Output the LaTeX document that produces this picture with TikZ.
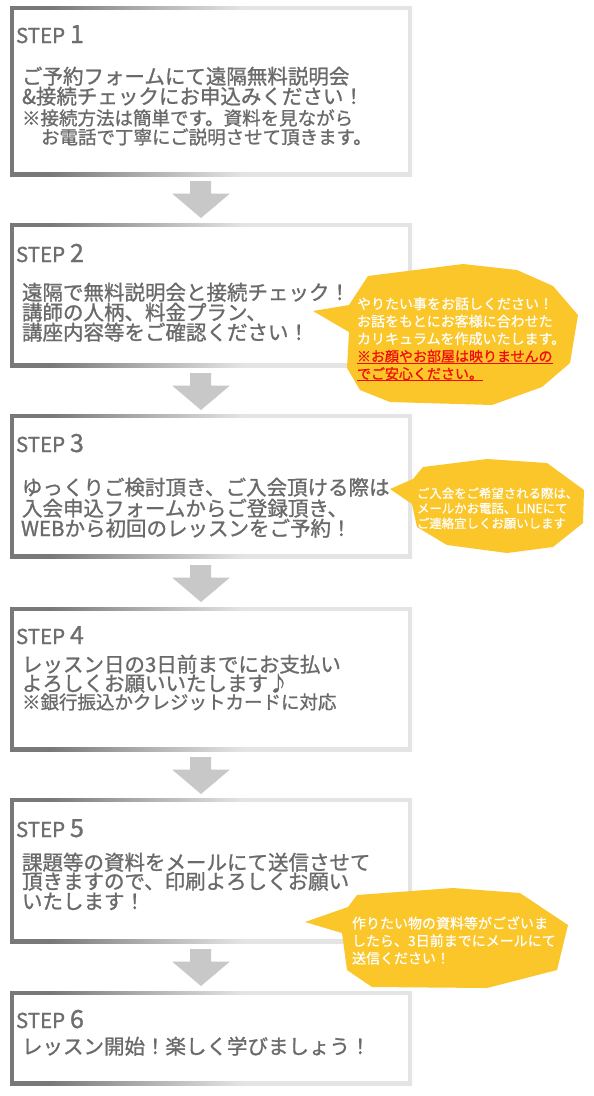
\documentclass[tikz,border=0pt]{standalone}
\usepackage{fontspec}
\newfontfamily\jp[FakeBold=1.1]{Noto Sans CJK JP}
\newfontfamily\jpc[FakeBold=0.8]{Noto Sans CJK JP}
\usetikzlibrary{calc}
\definecolor{txt}{HTML}{6A6A6A}
\definecolor{steptxt}{HTML}{6E6E6E}
\definecolor{arr}{HTML}{C8C8C8}
\definecolor{yel}{HTML}{FBC62A}
\definecolor{redtxt}{HTML}{F00A0A}
\definecolor{fr0}{HTML}{787878}
\definecolor{fr1}{HTML}{ABABAB}
\definecolor{fr2}{HTML}{E4E4E4}
\pgfdeclarehorizontalshading{framegrad}{100bp}{color(0bp)=(fr0); color(25bp)=(fr0); color(30bp)=(fr0); color(41bp)=(fr1); color(54bp)=(fr2); color(100bp)=(fr2)}
\begin{document}
\begin{tikzpicture}[x=1pt,y=-1pt,
  every node/.style={inner sep=0pt, outer sep=0pt},
  frame/.style={shade, shading=framegrad, anchor=north west, minimum width=402pt},
  main/.style={anchor=base west, text=txt, font=\jp\fontsize{20.5}{20.5}\selectfont},
  sub/.style={anchor=base west, text=txt, font=\jp\fontsize{18.5}{18.5}\selectfont},
  steplbl/.style={anchor=base west, text=steptxt, font=\jp\fontsize{20.5}{20.5}\selectfont},
  stepnum/.style={anchor=base west, text=steptxt, font=\jp\fontsize{25}{25}\selectfont},
  callout/.style={fill=yel},
  ctext/.style={anchor=base west, text=white, font=\jpc\fontsize{14}{14}\selectfont},
  ctextred/.style={anchor=base west, text=redtxt, font=\jpc\fontsize{14}{14}\selectfont},
  ctextsm/.style={anchor=base west, text=white, font=\jpc\fontsize{12.4}{12.4}\selectfont},
  uline/.style={draw=redtxt, line width=0.9pt},
  darrow/.pic={\fill[arr] (-11,0) -- (10,0) -- (10,12.5) -- (29,12.5) -- (0,37) -- (-29,12.5) -- (-11,12.5) -- cycle;}
]
\fill[white] (0,0) rectangle (594,1096);
\useasboundingbox (0,0) rectangle (594,1096);

% frames
\foreach \n/\t/\h in {b1/6/170, b2/223/144, b3/414/144, b4/607/144, b5/798/145, b6/991/94}{
  \node[frame, minimum height=\h pt] (\n) at (10,\t) {};
  \fill[white] ([shift={(4,4)}]\n.north west) rectangle ([shift={(-4,-4)}]\n.south east);
}

% arrows
\pic at ($(b1.south)+(-10,5)$) {darrow};
\pic at ($(b2.south)+(-10,6)$) {darrow};
\pic at ($(b3.south)+(-10,7)$) {darrow};
\pic at ($(b4.south)+(-10,6)$) {darrow};
\pic at ($(b5.south)+(-10,6)$) {darrow};

% STEP 1
\node[steplbl] (s1) at (16,43) {STEP};
\node[stepnum] (n1) at (70,43) {1};
\node[main] (t11) at (22,84) {ご予約フォームにて遠隔無料説明会};
\node[main] (t12) at (22,104) {\&接続チェックにお申込みください！};
\node[sub] (t13) at (22,125) {※接続方法は簡単です。資料を見ながら};
\node[sub] (t14) at (41,144) {お電話で丁寧にご説明させて頂きます。};

% STEP 2
\node[steplbl] (s2) at (16,262) {STEP};
\node[stepnum] (n2) at (70,262) {2};
\node[main] (t21) at (22,300) {遠隔で無料説明会と接続チェック！};
\node[main] (t22) at (22,320) {講師の人柄、料金プラン、};
\node[main] (t23) at (22,340) {講座内容等をご確認ください！};

% STEP 3
\node[steplbl] (s3) at (16,452) {STEP};
\node[stepnum] (n3) at (70,452) {3};
\node[main] (t31) at (22,495) {ゆっくりご検討頂き、ご入会頂ける際は};
\node[main] (t32) at (22,516) {入会申込フォームからご登録頂き、};
\node[main] (t33) at (21,536) {WEBから初回のレッスンをご予約！};

% STEP 4
\node[steplbl] (s4) at (16,644) {STEP};
\node[stepnum] (n4) at (70,644) {4};
\node[main] (t41) at (22,672) {レッスン日の3日前までにお支払い};
\node[main] (t42) at (22,691) {よろしくお願いいたします♪};
\node[sub] (t43) at (22,709) {※銀行振込かクレジットカードに対応};

% STEP 5
\node[steplbl] (s5) at (16,837) {STEP};
\node[stepnum] (n5) at (70,837) {5};
\node[main] (t51) at (22,870) {課題等の資料をメールにて送信させて};
\node[main] (t52) at (22,889) {頂きますので、印刷よろしくお願い};
\node[main] (t53) at (22,909) {いたします！};

% STEP 6
\node[steplbl] (s6) at (16,1028) {STEP};
\node[stepnum] (n6) at (70,1028) {6};
\node[main] (t61) at (22,1054) {レッスン開始！楽しく学びましょう！};

% callout 1
\fill[callout] (368,276) -- (463,264) -- (517,270) -- (553,286) -- (578,315) -- (570,363) -- (542,387) -- (492,405) -- (390,402) -- (360,390) -- (347,368) -- (349,332) -- (313,311) -- (349,305) -- cycle;
\node[ctext] (c11) at (357,309) {やりたい事をお話しください！};
\node[ctext] (c12) at (357,326.5) {お話をもとにお客様に合わせた};
\node[ctext] (c13) at (357,344) {カリキュラムを作成いたします。};
\node[ctextred] (c14) at (357,361.5) {※お顔やお部屋は映りませんの};
\node[ctextred] (c15) at (357,379) {でご安心ください。};
\draw[uline] ([yshift=-1.6pt]c14.base west) -- ([yshift=-1.6pt]c14.base east);
\draw[uline] ([yshift=-1.6pt]c15.base west) -- ([yshift=-1.6pt]c15.base east);

% callout 2
\fill[callout] (423,467) -- (487,459) -- (547,463) -- (584,490) -- (583,523) -- (553,547) -- (507,553) -- (447,545) -- (417,527) -- (412,504) -- (390,489) -- (413,479) -- cycle;
\node[ctextsm] (c21) at (417,498) {ご入会をご希望される際は、};
\node[ctextsm] (c22) at (417,513) {メールかお電話、LINEにて};
\node[ctextsm] (c23) at (417,528) {ご連絡宜しくお願いします};

% callout 3
\fill[callout] (357,895) -- (453,888) -- (520,893) -- (568,925) -- (557,970) -- (487,988) -- (372,987) -- (347,970) -- (342,933) -- (305,922) -- (348,907) -- cycle;
\node[ctext] (c31) at (352,928.5) {作りたい物の資料等がございま};
\node[ctext] (c32) at (352,946) {したら、3日前までにメールにて};
\node[ctext] (c33) at (352,963.5) {送信ください！};
\end{tikzpicture}
\end{document}
